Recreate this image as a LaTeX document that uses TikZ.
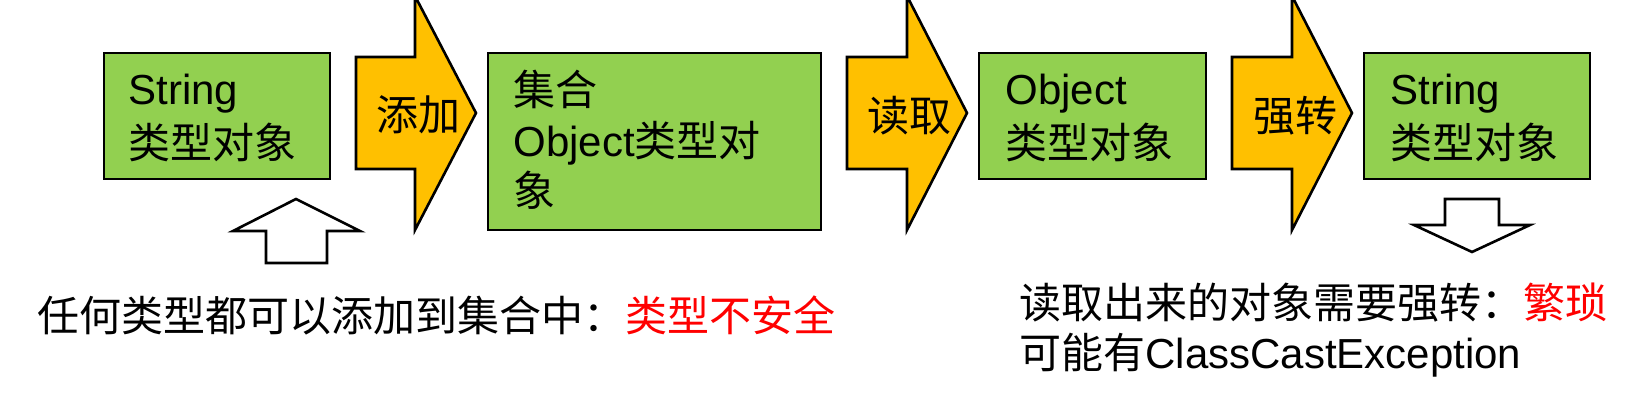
\documentclass[tikz,border=0pt]{standalone}
\usepackage{fontspec}
\setmainfont{Liberation Sans}
\newfontfamily\cjk{Noto Sans CJK SC}
\usetikzlibrary{fit}
\definecolor{boxgreen}{HTML}{92D050}
\definecolor{arrowyellow}{HTML}{FFC000}
\definecolor{warnred}{HTML}{FF0000}
\tikzset{
  box/.style={draw=black, line width=1pt, fill=boxgreen, inner sep=0pt},
  bigarrow/.style={draw=black, line width=1.3pt, fill=arrowyellow, line join=miter},
  hollowarrow/.style={draw=black, line width=1.3pt, fill=white, line join=miter},
  txt/.style={anchor=base west, inner sep=0pt, font=\fontsize{21}{25}\selectfont},
  arrlbl/.style={anchor=center, inner sep=0pt, font=\fontsize{21}{25}\selectfont\cjk},
}
\begin{document}
\begin{tikzpicture}[x=0.5pt,y=-0.5pt]
\useasboundingbox[fill=white] (0,0) rectangle (1648,400);
% boxes
\node[box, fit={(104,53) (330,179)}] (b1) {};
\node[box, fit={(488,53) (821,230)}] (b2) {};
\node[box, fit={(979,53) (1206,179)}] (b3) {};
\node[box, fit={(1364,53) (1590,179)}] (b4) {};
% yellow block arrows
\draw[bigarrow] (356,57) -- (415,57) -- (415,-4) -- (476,113) -- (415,230) -- (415,169) -- (356,169) -- cycle;
\draw[bigarrow] (847,57) -- (907,57) -- (907,-4) -- (967,113) -- (907,230) -- (907,169) -- (847,169) -- cycle;
\draw[bigarrow] (1232,57) -- (1292,57) -- (1292,-4) -- (1352,113) -- (1292,230) -- (1292,169) -- (1232,169) -- cycle;
% hollow arrows
\draw[hollowarrow] (296,199) -- (360,231) -- (327,231) -- (327,263) -- (266,263) -- (266,231) -- (233,231) -- cycle;
\draw[hollowarrow] (1445,199) -- (1499,199) -- (1499,225) -- (1530,225) -- (1472,252) -- (1414,225) -- (1445,225) -- cycle;
% box texts
\node[txt] (t1a) at (128,105) {String};
\node[txt] (t1b) at (128,159) {\cjk 类型对象};
\node[txt] (t2a) at (513,106) {\cjk 集合};
\node[txt] (t2b) at (513,157) {Object{\cjk 类型对}};
\node[txt] (t2c) at (513,207) {\cjk 象};
\node[txt] (t3a) at (1005,105) {Object};
\node[txt] (t3b) at (1005,159) {\cjk 类型对象};
\node[txt] (t4a) at (1390,105) {String};
\node[txt] (t4b) at (1390,159) {\cjk 类型对象};
% arrow labels
\node[arrlbl] (l1) at (418,115) {添加};
\node[arrlbl] (l2) at (909,116) {读取};
\node[arrlbl] (l3) at (1295,116) {强转};
% notes
\node[txt] (n1) at (37,332) {\cjk 任何类型都可以添加到集合中：\textcolor{warnred}{类型不安全}};
\node[txt] (n2) at (1019,319) {\cjk 读取出来的对象需要强转：\textcolor{warnred}{繁琐}};
\node[txt] (n3) at (1019,369) {{\cjk 可能有}ClassCastException};
\end{tikzpicture}
\end{document}
